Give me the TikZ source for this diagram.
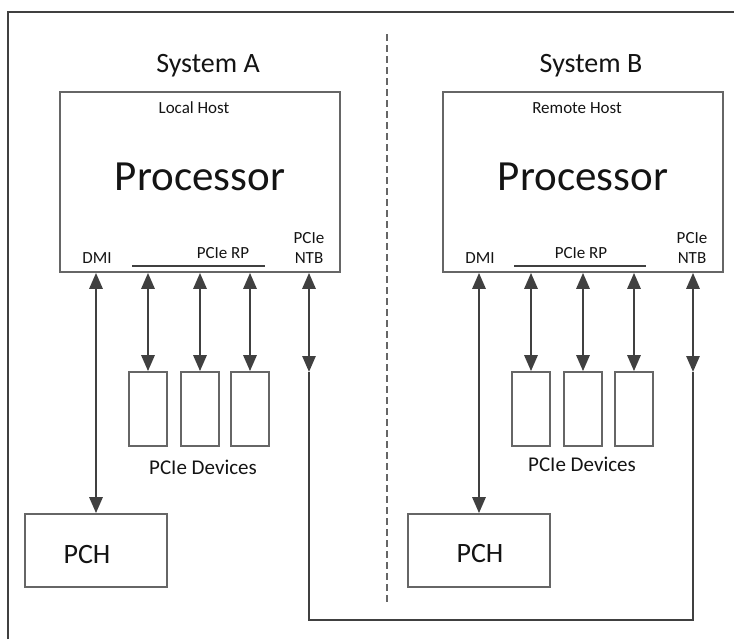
\documentclass[tikz,border=0pt]{standalone}
\usepackage{fontspec}
\setmainfont{Carlito}
\usetikzlibrary{arrows.meta}
\definecolor{linegray}{HTML}{404040}
\definecolor{boxgray}{HTML}{666666}
\definecolor{txtgray}{HTML}{141414}
\tikzset{
  box/.style={draw=boxgray, line width=0.8pt, inner sep=0pt},
  link/.style={draw=linegray, line width=1.4pt},
  biarrow/.style={link, {Triangle[length=8pt,width=6.5pt]}-{Triangle[length=8pt,width=6.5pt]}},
  txt/.style={inner sep=0pt, anchor=base, text=txtgray},
  small/.style={txt, font=\fontsize{8.5}{10}\selectfont},
  mid/.style={txt, font=\fontsize{10.5}{12}\selectfont},
  title/.style={txt, font=\fontsize{14}{16}\selectfont},
  big/.style={txt, font=\fontsize{21.5}{24}\selectfont},
}
\begin{document}
\begin{tikzpicture}[x=0.5pt,y=-0.5pt]
\useasboundingbox (0,0) rectangle (734,639);
\draw[draw=linegray, line width=0.9pt] (8,639) -- (8,12) -- (734,12);
\draw[draw=boxgray, line width=0.6pt, dash pattern=on 3.5pt off 2pt] (387,34) -- (387,602);
% System A
\begin{scope}
\node[box, minimum width=140pt, minimum height=90pt] (procA) at (200,182) {};
\node[title] (sysA) at (208,72) {System A};
\node[small] (hostA) at (194,113) {Local Host};
\node[big] (cpuA) at (200,190) {Processor};
\node[small] (dmiA) at (97,263) {DMI};
\node[small] (rpA) at (223,258) {PCIe RP};
\node[small, anchor=center, align=center] (ntbtxtA) at (309,248) {PCIe\\NTB};
\draw[link] (132,266) -- (265,266);
\node[box, minimum width=19pt, minimum height=37pt] (devA1) at (148,409) {};
\node[box, minimum width=19pt, minimum height=37pt] (devA2) at (200,409) {};
\node[box, minimum width=19pt, minimum height=37pt] (devA3) at (250,409) {};
\node[mid] (devtxtA) at (203,474) {PCIe Devices};
\draw[biarrow] (devA1.north) -- (devA1.north |- procA.south);
\draw[biarrow] (devA2.north) -- (devA2.north |- procA.south);
\draw[biarrow] (devA3.north) -- (devA3.north |- procA.south);
\node[box, minimum width=71pt, minimum height=36.5pt] (pchA) at (96,550.5) {};
\node[title] (pchtxtA) at (87,563) {PCH};
\draw[biarrow] (pchA.north) -- (pchA.north |- procA.south);
\coordinate (ntbA) at (309,372);
\draw[biarrow] (ntbA) -- (ntbA |- procA.south);
\end{scope}
% System B
\begin{scope}[shift={(383,0)}]
\node[box, minimum width=140pt, minimum height=90pt] (procB) at (200,182) {};
\node[title] (sysB) at (208,72) {System B};
\node[small] (hostB) at (194,113) {Remote Host};
\node[big] (cpuB) at (200,190) {Processor};
\node[small] (dmiB) at (97,263) {DMI};
\node[small] (rpB) at (198,258) {PCIe RP};
\node[small, anchor=center, align=center] (ntbtxtB) at (309,248) {PCIe\\NTB};
\draw[link] (131,266) -- (263,266);
\node[box, minimum width=19pt, minimum height=37pt] (devB1) at (148,409) {};
\node[box, minimum width=19pt, minimum height=37pt] (devB2) at (200,409) {};
\node[box, minimum width=19pt, minimum height=37pt] (devB3) at (251,409) {};
\node[mid] (devtxtB) at (199,471) {PCIe Devices};
\draw[biarrow] (devB1.north) -- (devB1.north |- procB.south);
\draw[biarrow] (devB2.north) -- (devB2.north |- procB.south);
\draw[biarrow] (devB3.north) -- (devB3.north |- procB.south);
\node[box, minimum width=71pt, minimum height=36.5pt] (pchB) at (96,550.5) {};
\node[title] (pchtxtB) at (97,562) {PCH};
\draw[biarrow] (pchB.north) -- (pchB.north |- procB.south);
\coordinate (ntbB) at (310,372);
\draw[biarrow] (ntbB) -- (ntbB |- procB.south);
\end{scope}
\draw[link] (ntbA) -- ++(0,248) -| (ntbB);
\end{tikzpicture}
\end{document}
